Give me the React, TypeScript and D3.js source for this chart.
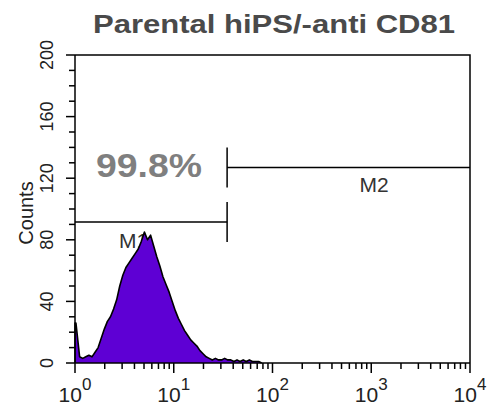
import React from 'react';
import * as d3 from 'd3';

// histogram: 32 channels per decade, counts from channel 0 upward
const channelsPerDecade = 32;
const counts = [
  26, 4, 3, 4, 5, 4, 7, 10, 16, 22,
  27, 30, 35, 41, 50, 57, 62, 65, 68, 71,
  74, 79, 85, 80, 83, 76, 69, 63, 56, 51,
  46, 40, 34, 29, 25, 21, 18, 15, 13, 11,
  8, 6, 4, 3, 2, 3, 2, 2, 3, 2,
  2, 1, 2, 1, 2, 1, 2, 1, 1, 1,
  0,
];

const yTicks = [0, 40, 80, 120, 160, 200];
const xDecades = [0, 1, 2, 3, 4];

// gates: [from, to] in fluorescence units, bar height in counts
const gateEdge = 34.7;
const gates = [
  { name: 'M1', from: 1, to: gateEdge, level: 91.5 },
  { name: 'M2', from: gateEdge, to: 10000, level: 127 },
];
const percentLabel = '99.8%';
const title = 'Parental hiPS/-anti CD81';

const W = 487, H = 405;
const left = 75, right = 470, top = 55, bottom = 363;

type Bin = { x0: number; c: number };

export default function App() {
  const x = d3.scaleLog().domain([1, 10000]).range([left, right]);
  const y = d3.scaleLinear().domain([0, 200]).range([bottom, top]);

  // first channel drawn as a thin spike at the axis, the rest joined point to point
  const bins: Bin[] = counts.map((c, i) => ({ x0: Math.pow(10, (i + (i === 0 ? 0.3 : 0.5)) / channelsPerDecade), c }));
  const pts: Bin[] = [{ x0: 1, c: 0 }, { x0: 1, c: counts[0] }, ...bins];
  const area = d3.area<Bin>()
    .x(d => x(d.x0))
    .y0(y(0))
    .y1(d => y(d.c));
  const line = d3.line<Bin>()
    .x(d => x(d.x0))
    .y(d => y(d.c));

  const minorY = d3.range(0, 201, 10);
  const minorX: number[] = [];
  for (let dcd = 0; dcd < 4; dcd++) {
    for (let k = 2; k <= 9; k++) minorX.push(k * Math.pow(10, dcd));
  }

  const font = 'Liberation Sans, Arial, sans-serif';

  return (
    <svg width={W} height={H} style={{ position: 'absolute', left: 0, top: 0, background: '#fff' }} fontFamily={font}>
      <text x={274} y={33} textAnchor="middle" fontSize={25} fontWeight="bold" fill="#4a4a4a"
        textLength={362} lengthAdjust="spacingAndGlyphs">{title}</text>

      {/* gate label sits under the histogram */}
      <text x={119} y={248} fontSize={21} fill="#333">M1</text>

      <path d={area(pts) || ''} fill="#5e00d4" />
      <path d={line(pts) || ''} fill="none" stroke="#000" strokeWidth={1.6} strokeLinejoin="round" />

      {/* frame */}
      <path d={`M${left},${top}H${right}V${bottom}`} fill="none" stroke="#000" strokeWidth={1.5} />
      <line x1={left} x2={right} y1={bottom} y2={bottom} stroke="#000" strokeWidth={1.5} />
      <line x1={left} x2={left} y1={top} y2={bottom} stroke="#000" strokeWidth={1.5} />

      {/* y axis */}
      {minorY.map(v => (
        <line key={'y' + v} x1={left} x2={left - (v % 40 === 0 ? 9 : 6)} y1={y(v)} y2={y(v)} stroke="#000" strokeWidth={1.5} />
      ))}
      {yTicks.map(v => (
        <text key={'yl' + v} transform={`translate(53,${y(v)}) rotate(-90)`} textAnchor="middle" fontSize={18} fill="#222">{v}</text>
      ))}
      <text transform={`translate(33,213) rotate(-90)`} textAnchor="middle" fontSize={20} fill="#222">Counts</text>

      {/* x axis */}
      {minorX.map(v => (
        <line key={'x' + v} x1={x(v)} x2={x(v)} y1={bottom} y2={bottom + 6} stroke="#000" strokeWidth={1.5} />
      ))}
      {xDecades.map(p => (
        <g key={'xd' + p}>
          <line x1={x(Math.pow(10, p))} x2={x(Math.pow(10, p))} y1={bottom} y2={bottom + 10} stroke="#000" strokeWidth={1.5} />
          <text x={x(Math.pow(10, p))} y={402} textAnchor="middle" fontSize={21} fill="#222">
            10<tspan fontSize={17} dy={-12}>{p}</tspan>
          </text>
        </g>
      ))}

      {/* gates */}
      {gates.map(g => (
        <line key={g.name} x1={x(g.from)} x2={x(g.to)} y1={y(g.level)} y2={y(g.level)} stroke="#000" strokeWidth={1.5} />
      ))}
      <line x1={x(gateEdge)} x2={x(gateEdge)} y1={y(gates[0].level) - 20} y2={y(gates[0].level) + 20} stroke="#000" strokeWidth={1.5} />
      <line x1={x(gateEdge)} x2={x(gateEdge)} y1={y(gates[1].level) - 20} y2={y(gates[1].level) + 20} stroke="#000" strokeWidth={1.5} />
      <text x={374} y={192} textAnchor="middle" fontSize={21} fill="#333">M2</text>
      <text x={96} y={177} fontSize={33} fontWeight="bold" fill="#7f7f7f" textLength={106} lengthAdjust="spacingAndGlyphs">{percentLabel}</text>
    </svg>
  );
}
